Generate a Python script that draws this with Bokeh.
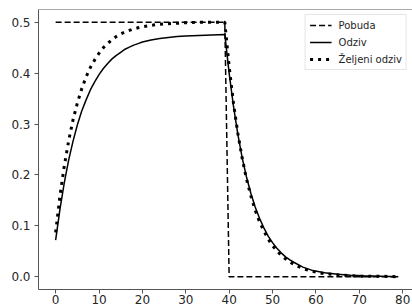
from bokeh.plotting import figure
from bokeh.models import FixedTicker, PrintfTickFormatter, Range1d, Span
from bokeh.embed import file_html
from bokeh.resources import INLINE

# ---- data ----
t_pobuda = [0, 39, 40, 79]
pobuda = [0.5, 0.5, 0.0, 0.0]

t = [0, 1, 2, 3, 4, 5, 6, 7, 8, 9, 10, 11, 12, 13, 14, 15, 16, 17, 18, 19, 20,
     22, 24, 26, 28, 30, 33, 36, 39,
     40, 41, 42, 43, 44, 45, 46, 47, 48, 49, 50, 51, 52, 53, 54, 55,
     57, 59, 62, 65, 68, 71, 75, 79]
odziv = [0.072, 0.133, 0.185, 0.229, 0.266, 0.298, 0.325, 0.347, 0.367, 0.383, 0.397,
         0.409, 0.419, 0.428, 0.435, 0.441, 0.447, 0.451, 0.455, 0.458, 0.461,
         0.465, 0.468, 0.470, 0.472, 0.473, 0.474, 0.475, 0.476,
         0.400, 0.335, 0.280, 0.234, 0.196, 0.164, 0.137, 0.115, 0.096, 0.080, 0.067,
         0.056, 0.047, 0.039, 0.033, 0.028,
         0.019, 0.013, 0.008, 0.005, 0.003, 0.002, 0.001, 0.000]
zeljeni = [0.087, 0.159, 0.218, 0.267, 0.308, 0.341, 0.369, 0.392, 0.411, 0.426, 0.439,
           0.450, 0.458, 0.466, 0.472, 0.477, 0.481, 0.484, 0.487, 0.489, 0.491,
           0.494, 0.496, 0.497, 0.498, 0.499, 0.500, 0.500, 0.500,
           0.413, 0.341, 0.282, 0.233, 0.192, 0.159, 0.131, 0.108, 0.090, 0.074, 0.061,
           0.051, 0.042, 0.035, 0.029, 0.024,
           0.016, 0.011, 0.006, 0.004, 0.002, 0.001, 0.001, 0.000]

x_ticks = [0, 10, 20, 30, 40, 50, 60, 70, 80]
y_ticks = [0.0, 0.1, 0.2, 0.3, 0.4, 0.5]
labels = ["Pobuda", "Odziv", "Željeni odziv"]

FONT = "DejaVu Sans"
AX = "#555555"
TXT = "#262626"

y_lo, y_hi = -0.025, 0.525
p = figure(width=412, height=308, output_backend="svg", toolbar_location=None,
           x_range=Range1d(-3.95, 82.27), y_range=Range1d(y_lo, y_hi),
           min_border_left=38, min_border_right=0, min_border_top=9,
           min_border_bottom=19)
p.outline_line_color = None
p.xgrid.visible = False
p.ygrid.visible = False
p.background_fill_color = "white"
p.border_fill_color = "white"

p.line(t_pobuda, pobuda, line_color="black", line_width=1.5, line_dash="6 3",
       legend_label=labels[0])
p.line(t, odziv, line_color="black", line_width=1.5, legend_label=labels[1])
p.line(t, zeljeni, line_color="black", line_width=3, line_dash="3 5",
       legend_label=labels[2])

p.add_layout(Span(location=y_hi, dimension="width", line_color=AX, line_width=1))

for ax in (p.xaxis[0], p.yaxis[0]):
    ax.axis_line_color = AX
    ax.axis_line_width = 1
    ax.major_tick_line_color = AX
    ax.major_tick_out = 4
    ax.major_tick_in = 0
    ax.minor_tick_line_color = None
    ax.major_label_text_font = FONT
    ax.major_label_text_font_size = "12px"
    ax.major_label_text_color = TXT

p.xaxis.ticker = FixedTicker(ticks=x_ticks)
p.yaxis.ticker = FixedTicker(ticks=y_ticks)
p.yaxis.formatter = PrintfTickFormatter(format="%.1f")
p.xaxis.major_label_standoff = 1
p.yaxis.major_label_standoff = 4

lg = p.legend[0]
lg.location = "top_right"
lg.margin = 5
lg.padding = 4
lg.spacing = 5
lg.glyph_width = 22
lg.glyph_height = 12
lg.label_height = 12
lg.label_standoff = 7
lg.label_text_font = FONT
lg.label_text_font_size = "10px"
lg.label_text_color = TXT
lg.border_line_color = "#cccccc"
lg.background_fill_alpha = 0.8

open("out.html", "w").write(file_html(p, INLINE))
